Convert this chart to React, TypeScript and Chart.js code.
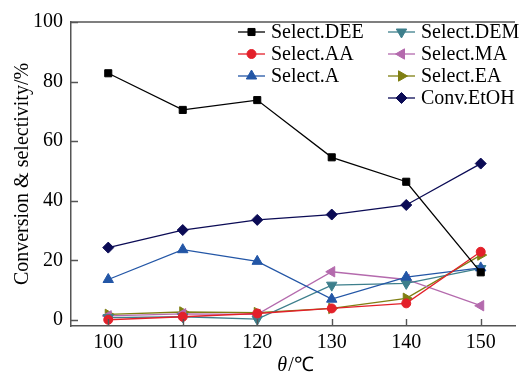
import React, { useEffect, useRef } from "react";
import { Chart, registerables } from "chart.js";
import { drawPoint } from "chart.js/helpers";

Chart.register(...registerables);

const temperatures = [100, 110, 120, 130, 140, 150];
const selectDEE = [82.8, 70.5, 73.8, 54.6, 46.4, 16.0];
const selectAA = [0.1, 1.1, 2.2, 3.9, 5.6, 22.9];
const selectA = [13.6, 23.6, 19.7, 7.0, 14.4, 17.5];
const selectDEM = [0.8, 1.1, 0.3, 11.7, 12.3, 17.3];
const selectMA = [1.4, 2.1, 1.9, 16.2, 13.6, 4.8];
const selectEA = [1.9, 2.7, 2.5, 3.9, 7.3, 21.8];
const convEtOH = [24.3, 30.2, 33.6, 35.4, 38.6, 52.5];

const xTickValues = [100, 110, 120, 130, 140, 150];
const yTickValues = [0, 20, 40, 60, 80, 100];

const seriesNames = [
  "Select.DEE",
  "Select.AA",
  "Select.A",
  "Select.DEM",
  "Select.MA",
  "Select.EA",
  "Conv.EtOH",
];
const seriesValues = [selectDEE, selectAA, selectA, selectDEM, selectMA, selectEA, convEtOH];
const seriesColors = ["#000000", "#e3202a", "#2356a6", "#3d7f8c", "#b46aad", "#7f7f12", "#0b0b55"];
const seriesStyles = ["rect", "circle", "triangle", "triangle", "triangle", "triangle", "rectRot"];
const seriesRotations = [0, 0, 0, 180, 270, 90, 0];
const seriesRadii = [5, 4.5, 6, 6, 6, 6, 5.5];

const FONT = "'Liberation Serif', 'Times New Roman', serif";
const AXIS_COLOR = "#555555";

const framePlugin = {
  id: "frameTicks",
  afterDraw(chart: any) {
    const { ctx, chartArea } = chart;
    const xs = chart.scales.x;
    const ys = chart.scales.y;
    ctx.save();
    ctx.strokeStyle = AXIS_COLOR;
    ctx.lineWidth = 1.4;
    ctx.beginPath();
    ctx.moveTo(chartArea.left, chartArea.top);
    ctx.lineTo(chartArea.right, chartArea.top);
    for (const v of xTickValues) {
      const px = Math.round(xs.getPixelForValue(v)) + 0.5;
      ctx.moveTo(px, chartArea.bottom);
      ctx.lineTo(px, chartArea.bottom - 7);
    }
    for (const v of yTickValues) {
      const py = Math.round(ys.getPixelForValue(v)) + 0.5;
      ctx.moveTo(chartArea.left, py);
      ctx.lineTo(chartArea.left + 7, py);
    }
    ctx.stroke();

    // x-axis title: italic theta + "/℃"
    const cx = (chartArea.left + chartArea.right) / 2 + 2;
    const cy = 366;
    ctx.fillStyle = "#000";
    ctx.textBaseline = "middle";
    ctx.font = `italic 20px ${FONT}`;
    const t1 = "θ";
    const w1 = ctx.measureText(t1).width;
    ctx.font = `20px ${FONT}`;
    const t2 = "/℃";
    const w2 = ctx.measureText(t2).width;
    const start = cx - (w1 + w2) / 2;
    ctx.font = `italic 20px ${FONT}`;
    ctx.textAlign = "left";
    ctx.fillText(t1, start, cy);
    ctx.font = `20px ${FONT}`;
    ctx.fillText(t2, start + w1 + 1, cy);

    // legend
    const colX = [238, 388];
    const rowY0 = 32;
    const rowH = 22;
    chart.data.datasets.forEach((ds: any, i: number) => {
      const col = i < 3 ? 0 : 1;
      const row = i < 3 ? i : i - 3;
      const x0 = colX[col];
      const y0 = rowY0 + row * rowH;
      ctx.strokeStyle = ds.borderColor;
      ctx.lineWidth = 1.3;
      ctx.beginPath();
      ctx.moveTo(x0, y0);
      ctx.lineTo(x0 + 27, y0);
      ctx.stroke();
      ctx.fillStyle = ds.pointBackgroundColor;
      ctx.strokeStyle = ds.pointBorderColor;
      ctx.lineWidth = 1;
      drawPoint(
        ctx,
        { pointStyle: ds.pointStyle, rotation: ds.pointRotation, radius: ds.pointRadius, borderWidth: 1 },
        x0 + 13.5,
        y0
      );
      ctx.fillStyle = "#000";
      ctx.font = `20px ${FONT}`;
      ctx.textAlign = "left";
      ctx.textBaseline = "middle";
      ctx.fillText(seriesNames[i], x0 + 33, y0 + 1);
    });
    ctx.restore();
  },
};

export default function App() {
  const canvasRef = useRef<HTMLCanvasElement | null>(null);

  useEffect(() => {
    if (!canvasRef.current) return;
    const datasets = seriesNames.map((name, i) => ({
      label: name,
      data: temperatures.map((t, j) => ({ x: t, y: seriesValues[i][j] })),
      borderColor: seriesColors[i],
      backgroundColor: seriesColors[i],
      pointBackgroundColor: seriesColors[i],
      pointBorderColor: seriesColors[i],
      pointBorderWidth: 1,
      pointStyle: seriesStyles[i],
      pointRotation: seriesRotations[i],
      pointRadius: seriesRadii[i],
      borderWidth: 1.3,
      tension: 0,
      fill: false,
    }));

    const chart = new Chart(canvasRef.current, {
      type: "line",
      data: { datasets },
      options: {
        animation: false,
        responsive: false,
        layout: { padding: { left: 0, top: 22, right: 0, bottom: 0 } },
        plugins: {
          legend: { display: false },
          tooltip: { enabled: false },
        },
        scales: {
          x: {
            type: "linear",
            min: 95,
            max: 154.6,
            afterBuildTicks: (scale: any) => {
              scale.ticks = xTickValues.map((v) => ({ value: v }));
            },
            afterFit: (scale: any) => {
              scale.height = 50;
            },
            grid: { display: false, drawTicks: false },
            border: { display: true, color: AXIS_COLOR, width: 1.5 },
            ticks: {
              padding: 5,
              color: "#000",
              font: { family: FONT, size: 20 },
              maxRotation: 0,
              callback: (v: any) => String(v),
            },
          },
          y: {
            type: "linear",
            min: -2,
            max: 100,
            afterBuildTicks: (scale: any) => {
              scale.ticks = yTickValues.map((v) => ({ value: v }));
            },
            afterFit: (scale: any) => {
              scale.width = 71;
            },
            grid: { display: false, drawTicks: false },
            border: { display: true, color: AXIS_COLOR, width: 1.5 },
            ticks: {
              padding: 8,
              color: "#000",
              font: { family: FONT, size: 20 },
              callback: (v: any) => String(v),
            },
            title: {
              display: true,
              text: "Conversion & selectivity/%",
              color: "#000",
              font: { family: FONT, size: 20 },
              padding: { top: 11, bottom: 0 },
            },
          },
        },
      },
      plugins: [framePlugin],
    } as any);

    return () => chart.destroy();
  }, []);

  return (
    <div style={{ position: "absolute", left: 0, top: 0, width: 522, height: 376, background: "#fff" }}>
      <canvas ref={canvasRef} width={522} height={376} style={{ display: "block" }} />
    </div>
  );
}
